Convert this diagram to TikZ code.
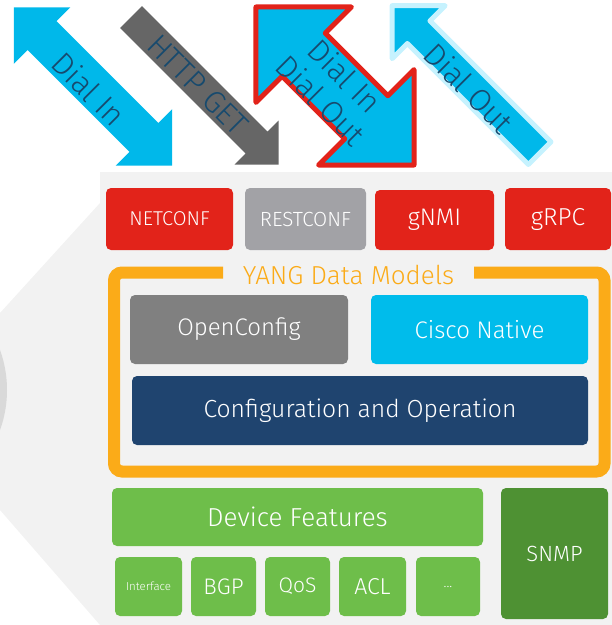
\documentclass[tikz,border=0pt]{standalone}
\usepackage{fontspec}
\setmainfont{Fira Sans Light}
\definecolor{panel}{HTML}{F2F2F2}
\definecolor{circ}{HTML}{D9D9D9}
\definecolor{cred}{HTML}{E2231A}
\definecolor{rgray}{HTML}{A2A2A6}
\definecolor{corange}{HTML}{FBAB18}
\definecolor{ocgray}{HTML}{808080}
\definecolor{cblue}{HTML}{00BCEB}
\definecolor{dblue}{HTML}{1F446F}
\definecolor{cgreen}{HTML}{6EBE4A}
\definecolor{dgreen}{HTML}{4E9133}
\definecolor{ablue}{HTML}{00B8EA}
\definecolor{agray}{HTML}{666666}
\definecolor{acyan}{HTML}{C6F2FE}
\definecolor{atext}{HTML}{174A6E}
\tikzset{
  box/.style={rounded corners=5pt, text=white, inner sep=0pt, align=center},
  arrowlabel/.style={text=atext, rotate=-45, inner sep=0pt, align=center, font=\fontsize{31}{34}\selectfont},
}
\begin{document}
\begin{tikzpicture}[x=1pt,y=-1pt]
\useasboundingbox (0,0) rectangle (612,625);
% background panel
\fill[panel] (100,172) -- (612,172) -- (612,625) -- (100,625) -- (0,510) -- (0,313) -- (100,203) -- cycle;
\fill[circ] (-111,390) circle[radius=118pt];

% Arrow 1: Dial In (double)
\begin{scope}[shift={(93,86.5)}, rotate=-45]
\fill[ablue] (-112,0) -- (-72,40) -- (-72,20.5) -- (72,20.5) -- (72,40) -- (112,0) -- (72,-40) -- (72,-20.5) -- (-72,-20.5) -- (-72,-40) -- cycle;
\end{scope}
\node[arrowlabel] (lab1) at (89,89) {Dial In};

% Arrow 2: HTTP GET (single, down-right)
\begin{scope}[shift={(204.75,90.75)}, rotate=-45]
\fill[agray] (-104.3,15.5) -- (73.3,15.5) -- (73.3,31) -- (104.3,0) -- (73.3,-31) -- (73.3,-15.5) -- (-104.3,-15.5) -- cycle;
\end{scope}
\node[arrowlabel] (lab2) at (198,85) {HTTP GET};

% Arrow 3: Dial In / Dial Out (double, red border)
\begin{scope}[shift={(335,86)}, rotate=-45]
\filldraw[fill=ablue, draw=cred, line width=5pt, line join=round] (-111.75,0) -- (-44.25,67.5) -- (-44.25,30.5) -- (44.25,30.5) -- (44.25,67.5) -- (111.75,0) -- (44.25,-67.5) -- (44.25,-30.5) -- (-44.25,-30.5) -- (-44.25,-67.5) -- cycle;
\end{scope}
\node[arrowlabel] (lab3) at (333,88) {Dial In\\Dial Out};

% Arrow 4: Dial Out (single, up-left, cyan border)
\begin{scope}[shift={(465.9,79.4)}, rotate=-45]
\filldraw[fill=ablue, draw=acyan, line width=5pt, line join=round] (-104.3,0) -- (-66.8,37.5) -- (-66.8,16) -- (104.3,16) -- (104.3,-16) -- (-66.8,-16) -- (-66.8,-37.5) -- cycle;
\end{scope}
\node[arrowlabel] (lab4) at (469,88) {Dial Out};

% protocol boxes
\node[box, fill=cred, minimum width=127pt, minimum height=62pt, font=\fontsize{20}{22}\selectfont] (netconf) at (169.5,219) {NETCONF};
\node[box, fill=rgray, minimum width=121pt, minimum height=62pt, font=\fontsize{20.5}{22}\selectfont] (restconf) at (305.5,219) {RESTCONF};
\node[box, fill=cred, minimum width=119pt, minimum height=60pt, font=\fontsize{24}{26}\selectfont] (gnmi) at (434.5,220) {gNMI};
\node[box, fill=cred, minimum width=106pt, minimum height=62pt, font=\fontsize{24.5}{26}\selectfont] (grpc) at (558,219) {gRPC};

% YANG frame
\draw[corange, line width=12pt, rounded corners=8pt] (223,272.5) -- (114,272.5) -- (114,471.5) -- (604.5,471.5) -- (604.5,272.5) -- (474,272.5);
\node[text=corange, inner sep=0pt, font=\fontsize{26}{28}\selectfont] (yang) at (348.5,275) {YANG Data Models};

\node[box, fill=ocgray, minimum width=218pt, minimum height=69pt, font=\fontsize{24}{26}\selectfont] (openconfig) at (239,329.5) {OpenConfig};
\node[box, fill=cblue, minimum width=217pt, minimum height=69pt, font=\fontsize{24}{26}\selectfont] (native) at (479.5,329.5) {Cisco Native};
\node[box, fill=dblue, minimum width=456pt, minimum height=69pt, font=\fontsize{24.7}{26}\selectfont] (config) at (360,410.5) {Configuration and Operation};

% device features
\node[box, fill=cgreen, minimum width=371pt, minimum height=58pt, font=\fontsize{26}{28}\selectfont] (features) at (297.5,517) {Device Features};
\node[box, fill=dgreen, minimum width=107pt, minimum height=131pt, font=\fontsize{22}{24}\selectfont] (snmp) at (554.5,553.5) {SNMP};
\node[box, fill=cgreen, minimum width=67pt, minimum height=59pt, font=\fontsize{11.5}{13}\selectfont] (iface) at (148.5,586.5) {Interface};
\node[box, fill=cgreen, minimum width=65pt, minimum height=59pt, font=\fontsize{22.5}{24}\selectfont] (bgp) at (223.5,586.5) {BGP};
\node[box, fill=cgreen, minimum width=65pt, minimum height=59pt, font=\fontsize{21}{23}\selectfont] (qos) at (297.5,586.5) {QoS};
\node[box, fill=cgreen, minimum width=67pt, minimum height=59pt, font=\fontsize{23}{25}\selectfont] (acl) at (372.5,586.5) {ACL};
\node[box, fill=cgreen, minimum width=64pt, minimum height=59pt, font=\fontsize{14}{16}\selectfont] (more) at (448,586.5) {...};
\end{tikzpicture}
\end{document}
